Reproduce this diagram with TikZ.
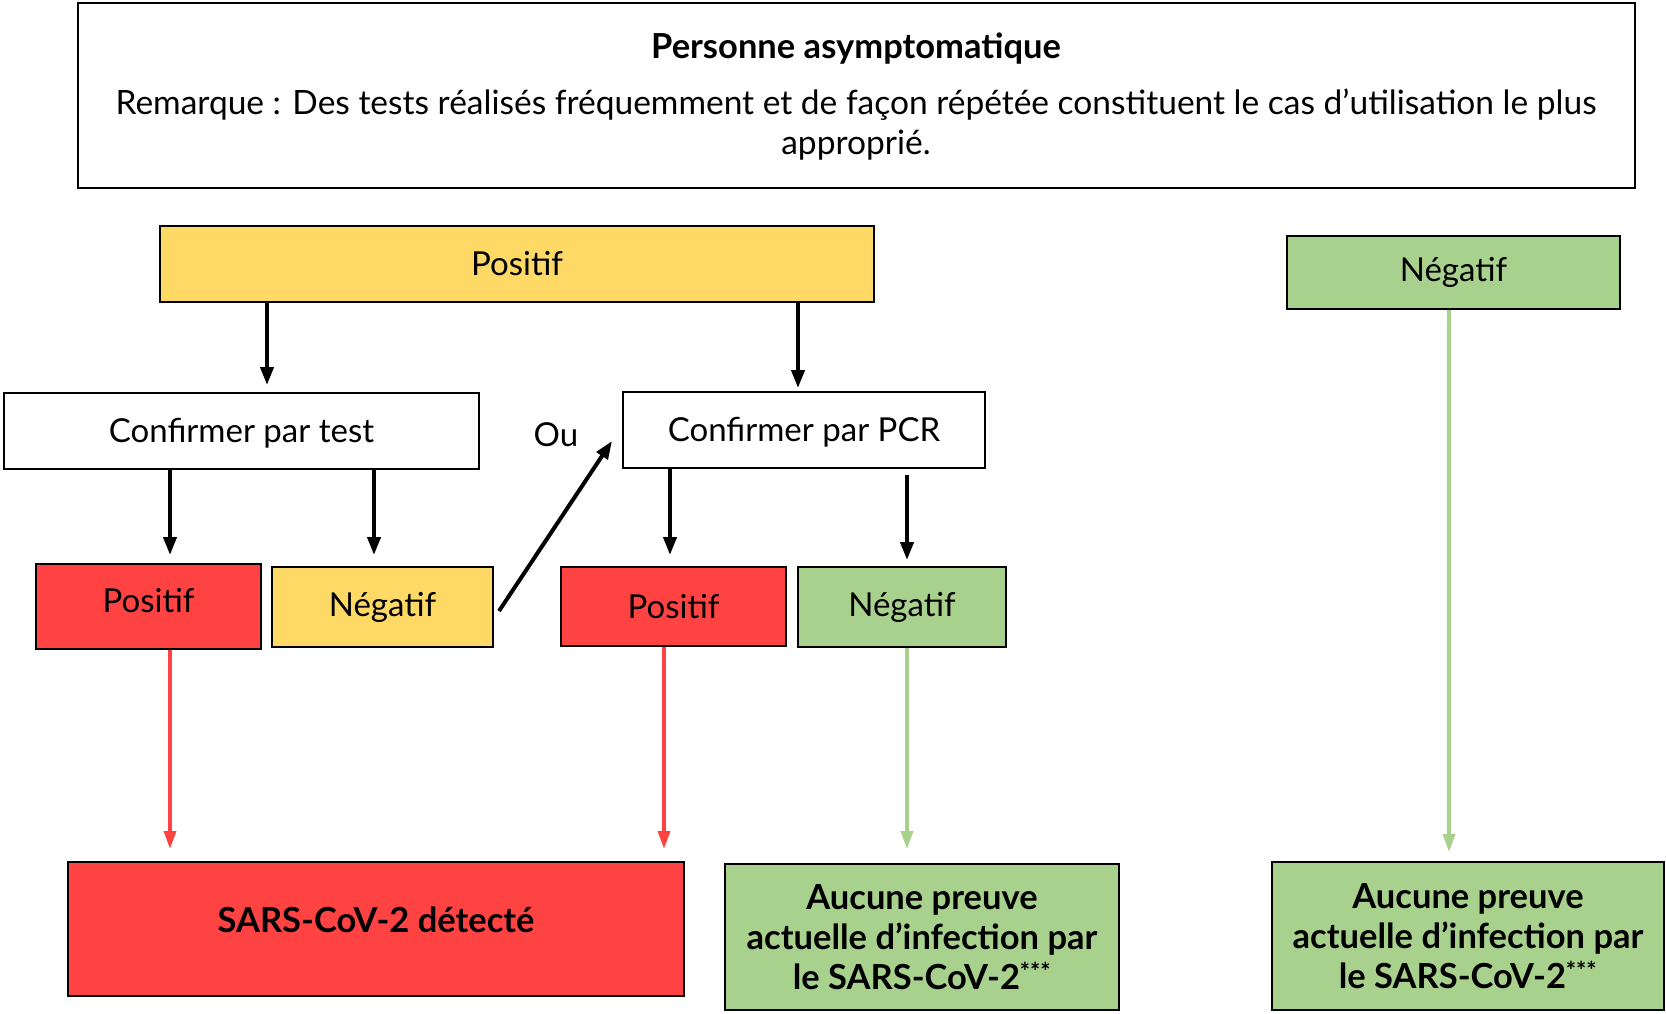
\documentclass[tikz,border=0pt]{standalone}
\usepackage{fontspec}
\setmainfont{Lato}
\usetikzlibrary{arrows.meta}
\definecolor{cyel}{HTML}{FFD966}
\definecolor{cred}{HTML}{FF4343}
\definecolor{cgrn}{HTML}{A8D18D}
\begin{document}
\begin{tikzpicture}[x=1pt,y=-1pt,
  box/.style={draw=black,line width=2pt,inner sep=0pt,minimum width=#1},
  lab/.style={font=\fontsize{33}{38}\selectfont},
  blab/.style={font=\fontsize{34.5}{40}\selectfont\bfseries,align=center},
  arr/.style={line width=4pt,-{Triangle[length=18pt,width=13pt]}},
  carr/.style={line width=3.5pt,-{Triangle[length=18pt,width=12pt]}}]
\useasboundingbox (0,0) rectangle (1666,1013);
% top box
\node[box=1557pt,minimum height=185pt] (head) at (856,95.5) {};
\node[font=\fontsize{34.5}{38}\selectfont\bfseries] (title) at (856,49) {Personne asymptomatique};
\node[font=\fontsize{33.5}{40}\selectfont,align=center,anchor=north] (rem) at (856,85) {Remarque : Des tests réalisés fréquemment et de façon répétée constituent le cas d’utilisation le plus\\ approprié.};
% boxes
\node[box=714pt,minimum height=76pt,fill=cyel,lab] (ptop) at (517,264) {Positif};
\node[box=333pt,minimum height=73pt,fill=cgrn,lab] (negR) at (1453.5,272.5) {Négatif};
\node[box=475pt,minimum height=76pt,lab,text depth=0pt,text height=22pt] (ctest) at (241.5,431) {Confirmer par test};
\node[box=362pt,minimum height=76pt,lab,text depth=0pt,text height=22pt] (cpcr) at (804,430) {Confirmer par PCR};
\node[lab] (ou) at (556,435) {Ou};
\node[box=225pt,minimum height=85pt,fill=cred,lab,text depth=12pt] (pos1) at (148.5,606.5) {Positif};
\node[box=221pt,minimum height=80pt,fill=cyel,lab] (neg1) at (382.5,607) {Négatif};
\node[box=225pt,minimum height=79pt,fill=cred,lab] (pos2) at (673.5,606.5) {Positif};
\node[box=208pt,minimum height=80pt,fill=cgrn,lab] (neg2) at (902,607) {Négatif};
\node[box=616pt,minimum height=134pt,fill=cred,blab,text depth=18pt] (sars) at (376,929) {SARS-CoV-2 détecté};
\node[box=394pt,minimum height=146pt,fill=cgrn,blab] (auc1) at (922,937) {Aucune preuve\\actuelle d’infection par\\le SARS-CoV-2\textsuperscript{***}};
\node[box=392pt,minimum height=148pt,fill=cgrn,blab] (auc2) at (1468,936) {Aucune preuve\\actuelle d’infection par\\le SARS-CoV-2\textsuperscript{***}};
% arrows
\draw[arr,shorten >=7pt] ([xshift=-250pt,yshift=2pt]ptop.south) -- ([xshift=-250pt]ptop.south |- ctest.north);
\draw[arr,shorten >=3pt] ([xshift=281pt]ptop.south) -- ([xshift=281pt]ptop.south |- cpcr.north);
\draw[arr,shorten >=8pt] ([xshift=-71.5pt]ctest.south) -- ([xshift=-71.5pt]ctest.south |- pos1.north);
\draw[arr,shorten >=11pt] ([xshift=132.5pt]ctest.south) -- ([xshift=132.5pt]ctest.south |- neg1.north);
\draw[arr,shorten >=11pt] ([xshift=-134pt]cpcr.south) -- ([xshift=-134pt]cpcr.south |- pos2.north);
\draw[arr,shorten >=6pt] ([xshift=103pt,yshift=-6pt]cpcr.south) -- ([xshift=103pt]cpcr.south |- neg2.north);
\draw[arr] ([xshift=5pt,yshift=-4pt]neg1.east) -- ([xshift=-10pt,yshift=-11pt]cpcr.west);
\draw[carr,cred,shorten >=12pt] ([xshift=21.5pt]pos1.south) -- ([xshift=21.5pt]pos1.south |- sars.north);
\draw[carr,cred,shorten >=12pt] ([xshift=-9.5pt]pos2.south) -- ([xshift=-9.5pt]pos2.south |- sars.north);
\draw[carr,cgrn,shorten >=14pt] ([xshift=5pt]neg2.south) -- ([xshift=5pt]neg2.south |- auc1.north);
\draw[carr,cgrn,shorten >=9pt] ([xshift=-4.5pt]negR.south) -- ([xshift=-4.5pt]negR.south |- auc2.north);
\end{tikzpicture}
\end{document}
